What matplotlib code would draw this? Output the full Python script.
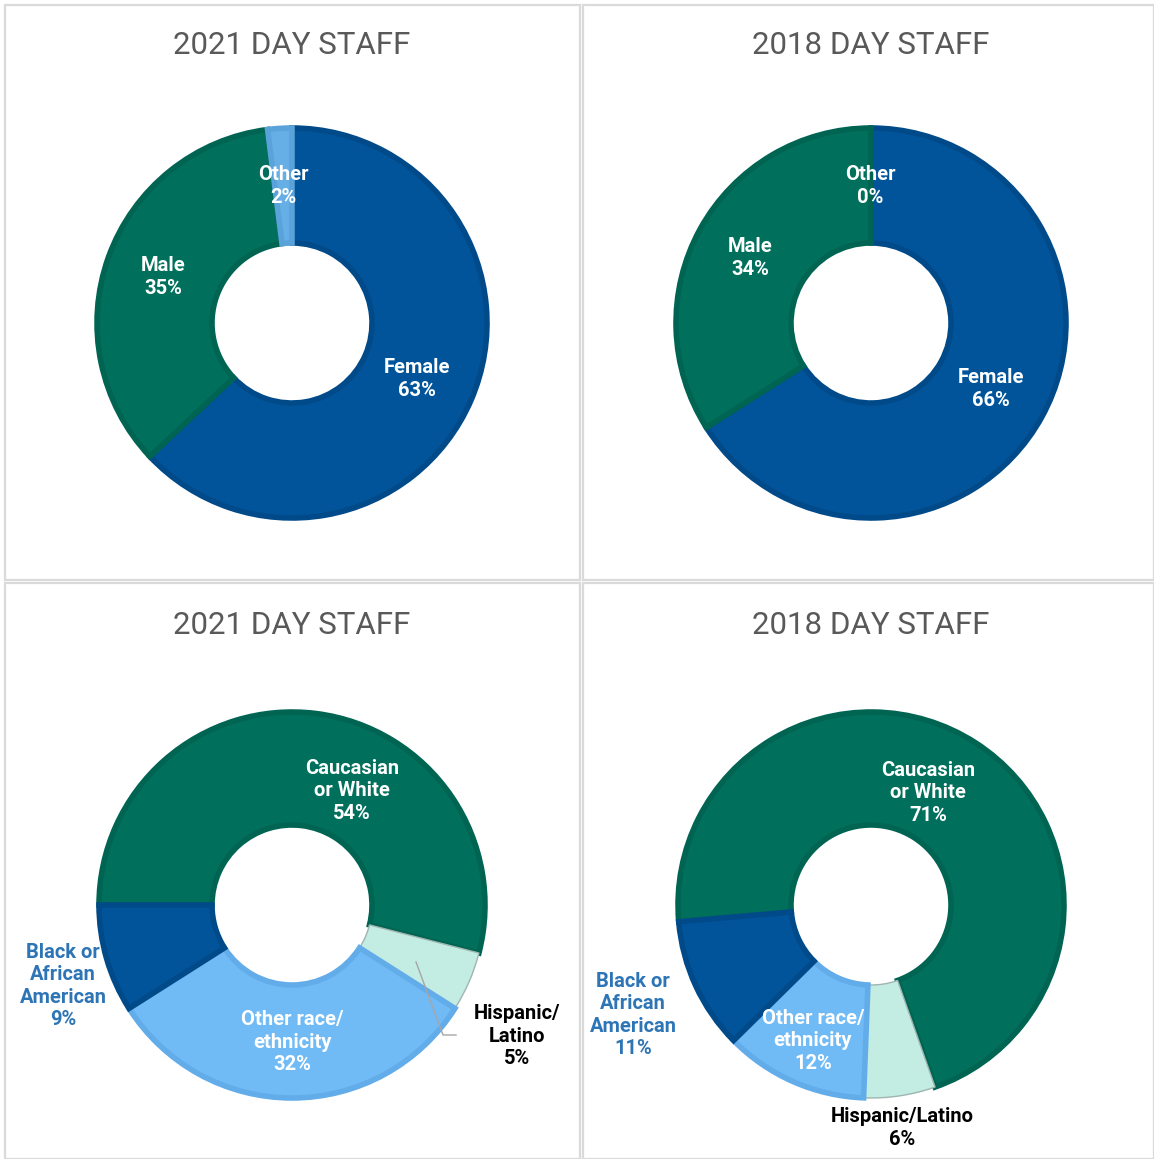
import matplotlib
matplotlib.use("Agg")
import matplotlib.pyplot as plt
from matplotlib.patches import Rectangle
from matplotlib import font_manager

# 数据
gender_labels = ["Female", "Male", "Other"]
gender_2021 = [63, 35, 2]
gender_2018 = [66, 34, 0]

race_labels = ["Caucasian\nor White", "Hispanic/\nLatino", "Other race/\nethnicity", "Black or\nAfrican\nAmerican"]
race_2021 = [54, 5, 32, 9]
race_2018 = [71, 6, 12, 11]

titles = ["2021 DAY STAFF", "2018 DAY STAFF", "2021 DAY STAFF", "2018 DAY STAFF"]

names = {f.name for f in font_manager.fontManager.ttflist}
label_font = "Liberation Sans Narrow" if "Liberation Sans Narrow" in names else "Roboto"
title_font = "Liberation Sans Narrow" if "Liberation Sans Narrow" in names else "Roboto"

W, H = 1154, 1159
fig = plt.figure(figsize=(W / 100, H / 100), dpi=100)
ax = fig.add_axes([0, 0, 1, 1])

# 面板边框
for x0, y0, w, h in [(5, 5, 575, 575), (583, 5, 571, 575), (5, 583, 575, 576), (583, 583, 571, 576)]:
    ax.add_patch(Rectangle((x0, H - y0 - h), w, h, fill=False, ec="#dadada", lw=1.6))

gender_cols = ["#01549A", "#00705C", "#66AEE6"]
gender_edge = ["#004A89", "#006452", "#5aa2da"]
race_cols = ["#00705C", "#C3ECE3", "#70BAF5", "#01549A"]
race_edge = ["#006452", "#b0dcd2", "#62acea", "#004A89"]


def donut(values, cols, edges, cx, cy, r, ri, start):
    # 边线宽约 5px，半径往里收一点
    wedges, _ = ax.pie(values, colors=cols, center=(cx, H - cy), radius=r - 2,
                       startangle=start, counterclock=False,
                       wedgeprops=dict(width=r - ri - 4, linewidth=4))
    for w, e, v in zip(wedges, edges, values):
        w.set_edgecolor(e)
        w.set_joinstyle("miter")
        if v == 0:
            w.set_linewidth(0)
    return wedges


donut(gender_2021, gender_cols, gender_edge, 292, 323, 197, 78, 90)
donut(gender_2018, gender_cols, gender_edge, 871, 323, 197, 78, 90)
w3 = donut(race_2021, race_cols, race_edge, 292, 905, 195, 78, 180)
w4 = donut(race_2018, race_cols, race_edge, 871, 905, 195, 78, 185)
for w in (w3[1], w4[1]):
    w.set_edgecolor("#9fb5b0")
    w.set_linewidth(1)

# 标题
for t, (x, y) in zip(titles, [(292, 45), (871, 45), (292, 626), (871, 626)]):
    ax.text(x, H - y, t, ha="center", va="center", fontsize=22.5,
            family=title_font, color="#595959")

lab = dict(ha="center", va="center", fontsize=14.5, fontweight="bold",
           family=label_font, linespacing=1.22)

# 性别标签
for vals, pos in [(gender_2021, [(417, 379), (163, 277), (283, 186)]),
                  (gender_2018, [(991, 389), (750, 258), (870, 186)])]:
    for name, v, (x, y) in zip(gender_labels, vals, pos):
        ax.text(x, H - y, f"{name}\n{v}%", color="white", **lab)

# 种族标签
race_txt_cols = ["white", "black", "white", "#2E75B6"]
for vals, pos in [(race_2021, [(352, 791), (517, 1036), (292, 1042), (63, 986)]),
                  (race_2018, [(928, 793), (902, 1128), (813, 1041), (633, 1015)])]:
    for i, (name, v, (x, y)) in enumerate(zip(race_labels, vals, pos)):
        if vals is race_2018 and i == 1:
            name = name.replace("\n", "")
        ax.text(x, H - y, f"{name}\n{v}%", color=race_txt_cols[i], **lab)

# 引导线
ax.plot([416, 443, 456], [H - 962, H - 1035, H - 1035], color="#a6a6a6", lw=1)

ax.set_xlim(0, W)
ax.set_ylim(0, H)
ax.set_aspect("auto")
ax.axis("off")
fig.savefig("out.png", dpi=100)
